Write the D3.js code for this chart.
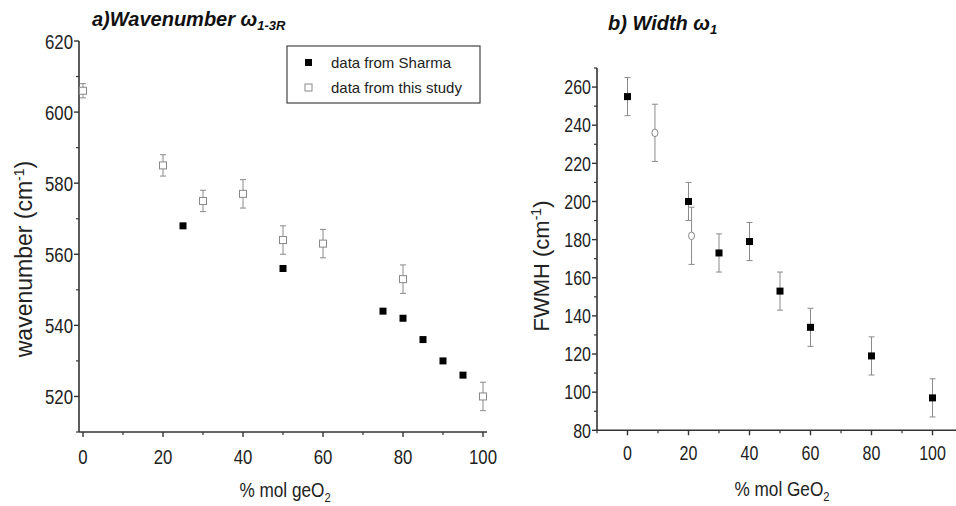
<html>
<head>
<script src="https://d3js.org/d3.v7.min.js"></script>
<style>
body { margin: 0; background: #fff; }
svg { font-family: "Liberation Sans", Arial, sans-serif; }
</style>
</head>
<body>
<div id="chart"></div>
<script type="text/javascript">

// panel a) wavenumber
var sharmaX = [25, 50, 75, 80, 85, 90, 95];
var sharmaW = [568, 556, 544, 542, 536, 530, 526];
var studyX = [0, 20, 30, 40, 50, 60, 80, 100];
var studyW = [606, 585, 575, 577, 564, 563, 553, 520];
var studyWErr = [2, 3, 3, 4, 4, 4, 4, 4];

// panel b) width
var sharmaFX = [0, 20, 30, 40, 50, 60, 80, 100];
var sharmaF = [255, 200, 173, 179, 153, 134, 119, 97];
var sharmaFErr = [10, 10, 10, 10, 10, 10, 10, 10];
var studyFX = [9, 21];
var studyF = [236, 182];
var studyFErr = [15, 15];

var ticksA_x = [0, 20, 40, 60, 80, 100];
var ticksA_y = [520, 540, 560, 580, 600, 620];
var ticksB_x = [0, 20, 40, 60, 80, 100];
var ticksB_y = [80, 100, 120, 140, 160, 180, 200, 220, 240, 260];

var svg = d3.select("#chart").append("svg")
	.attr("width", 956)
	.attr("height", 506);

var axisCol = "#333";
var errCol = "#8a8a8a";
var squeeze = 0.8; // tick labels in the original look condensed

function drawAxes(g, x, y, xt, yt, xMinor, yMinor, fs, xoff) {
	var x0 = x.range()[0], x1 = x.range()[1];
	var y0 = y.range()[0], y1 = y.range()[1];
	g.append("line").attr("x1", x0).attr("x2", x0).attr("y1", y0).attr("y2", y1)
		.style("stroke", axisCol).style("stroke-width", 1.6);
	g.append("line").attr("x1", x0).attr("x2", x1).attr("y1", y0).attr("y2", y0)
		.style("stroke", axisCol).style("stroke-width", 1.6);
	// major ticks
	g.selectAll(".xt").data(xt).enter().append("line")
		.attr("x1", function(d) { return x(d); }).attr("x2", function(d) { return x(d); })
		.attr("y1", y0).attr("y2", y0 + 5)
		.style("stroke", axisCol).style("stroke-width", 1.4);
	g.selectAll(".xm").data(xMinor).enter().append("line")
		.attr("x1", function(d) { return x(d); }).attr("x2", function(d) { return x(d); })
		.attr("y1", y0).attr("y2", y0 + 3)
		.style("stroke", axisCol).style("stroke-width", 1.2);
	g.selectAll(".yt").data(yt).enter().append("line")
		.attr("x1", x0 - 5).attr("x2", x0)
		.attr("y1", function(d) { return y(d); }).attr("y2", function(d) { return y(d); })
		.style("stroke", axisCol).style("stroke-width", 1.4);
	g.selectAll(".ym").data(yMinor).enter().append("line")
		.attr("x1", x0 - 3).attr("x2", x0)
		.attr("y1", function(d) { return y(d); }).attr("y2", function(d) { return y(d); })
		.style("stroke", axisCol).style("stroke-width", 1.2);
	g.selectAll(".xl").data(xt).enter().append("text")
		.attr("transform", function(d) { return "translate(" + x(d) + "," + (y0 + xoff) + ") scale(" + squeeze + ",1)"; })
		.attr("text-anchor", "middle")
		.style("font-size", fs + "px").style("fill", "#222")
		.text(function(d) { return d; });
	g.selectAll(".yl").data(yt).enter().append("text")
		.attr("transform", function(d) { return "translate(" + (x0 - 6) + "," + (y(d) + fs * 0.36) + ") scale(" + squeeze + ",1)"; })
		.attr("text-anchor", "end")
		.style("font-size", fs + "px").style("fill", "#222")
		.text(function(d) { return d; });
}

function errBars(g, xs, ys, es, x, y) {
	xs.forEach(function(v, i) {
		var cx = x(v), top = y(ys[i] + es[i]), bot = y(ys[i] - es[i]);
		g.append("line").attr("x1", cx).attr("x2", cx).attr("y1", top).attr("y2", bot)
			.style("stroke", errCol).style("stroke-width", 1);
		[top, bot].forEach(function(yy) {
			g.append("line").attr("x1", cx - 3).attr("x2", cx + 3).attr("y1", yy).attr("y2", yy)
				.style("stroke", errCol).style("stroke-width", 1);
		});
	});
}

function filledSquares(g, xs, ys, x, y) {
	g.selectAll(".fs").data(xs).enter().append("rect")
		.attr("x", function(d) { return x(d) - 3.5; })
		.attr("y", function(d, i) { return y(ys[i]) - 3.5; })
		.attr("width", 7).attr("height", 7)
		.style("fill", "#000");
}

// ---------- panel a ----------
var xa = d3.scaleLinear().domain([-1, 101]).range([79, 487]);
var ya = d3.scaleLinear().domain([510, 620]).range([432, 41]);
var ga = svg.append("g");

drawAxes(ga, xa, ya, ticksA_x, ticksA_y,
	[10, 30, 50, 70, 90], [510, 530, 550, 570, 590, 610], 21, 32);

errBars(ga, studyX, studyW, studyWErr, xa, ya);
ga.selectAll(".os").data(studyX).enter().append("rect")
	.attr("x", function(d) { return xa(d) - 3.5; })
	.attr("y", function(d, i) { return ya(studyW[i]) - 3.5; })
	.attr("width", 7).attr("height", 7)
	.style("fill", "#fff").style("stroke", "#888").style("stroke-width", 1);
filledSquares(ga, sharmaX, sharmaW, xa, ya);

// title a
var ta = ga.append("text").attr("x", 92).attr("y", 26)
	.style("font-size", "20px").style("font-weight", "bold").style("font-style", "italic").style("fill", "#111");
ta.append("tspan").text("a)Wavenumber ω");
ta.append("tspan").attr("dy", 4).style("font-size", "13px").text("1-3R");

// y label a
var yla = ga.append("text")
	.attr("transform", "translate(32,259) rotate(-90)")
	.attr("text-anchor", "middle")
	.style("font-size", "23px").style("fill", "#222");
yla.append("tspan").text("wavenumber (cm");
yla.append("tspan").attr("dy", -8).style("font-size", "14px").text("-1");
yla.append("tspan").attr("dy", 8).text(")");

// x label a
var xla = ga.append("text").attr("transform", "translate(285,497) scale(0.86,1)")
	.attr("text-anchor", "middle")
	.style("font-size", "20px").style("fill", "#222");
xla.append("tspan").text("% mol geO");
xla.append("tspan").attr("dy", 5).style("font-size", "13px").text("2");

// legend
var lg = ga.append("g");
lg.append("rect").attr("x", 287).attr("y", 46).attr("width", 193).attr("height", 57)
	.style("fill", "#fff").style("stroke", "#444").style("stroke-width", 1.2);
lg.append("rect").attr("x", 305).attr("y", 59).attr("width", 7).attr("height", 7).style("fill", "#000");
lg.append("rect").attr("x", 305).attr("y", 84).attr("width", 7).attr("height", 7)
	.style("fill", "#fff").style("stroke", "#888");
lg.append("text").attr("x", 331).attr("y", 68).style("font-size", "15px").style("fill", "#222").text("data from Sharma");
lg.append("text").attr("x", 331).attr("y", 93).style("font-size", "15px").style("fill", "#222").text("data from this study");

// ---------- panel b ----------
var xb = d3.scaleLinear().domain([-10, 110]).range([597, 963]);
var yb = d3.scaleLinear().domain([80, 270]).range([430.3, 68]);
var gb = svg.append("g");

drawAxes(gb, xb, yb, ticksB_x, ticksB_y,
	[-10, 10, 30, 50, 70, 90], [90, 110, 130, 150, 170, 190, 210, 230, 250, 270], 20, 30);

errBars(gb, sharmaFX, sharmaF, sharmaFErr, xb, yb);
errBars(gb, studyFX, studyF, studyFErr, xb, yb);
filledSquares(gb, sharmaFX, sharmaF, xb, yb);
gb.selectAll(".oc").data(studyFX).enter().append("ellipse")
	.attr("cx", function(d) { return xb(d); })
	.attr("cy", function(d, i) { return yb(studyF[i]); })
	.attr("rx", 3).attr("ry", 3.8)
	.style("fill", "#fff").style("stroke", "#888").style("stroke-width", 1);

var tb = gb.append("text").attr("x", 608).attr("y", 30)
	.style("font-size", "20px").style("font-weight", "bold").style("font-style", "italic").style("fill", "#111");
tb.append("tspan").text("b) Width ω");
tb.append("tspan").attr("dy", 4).style("font-size", "13px").text("1");

var ylb = gb.append("text")
	.attr("transform", "translate(549,266) rotate(-90)")
	.attr("text-anchor", "middle")
	.style("font-size", "22px").style("fill", "#222");
ylb.append("tspan").text("FWMH (cm");
ylb.append("tspan").attr("dy", -8).style("font-size", "14px").text("-1");
ylb.append("tspan").attr("dy", 8).text(")");

var xlb = gb.append("text").attr("transform", "translate(782,496) scale(0.86,1)")
	.attr("text-anchor", "middle")
	.style("font-size", "20px").style("fill", "#222");
xlb.append("tspan").text("% mol GeO");
xlb.append("tspan").attr("dy", 5).style("font-size", "13px").text("2");

</script>
</body>
</html>
